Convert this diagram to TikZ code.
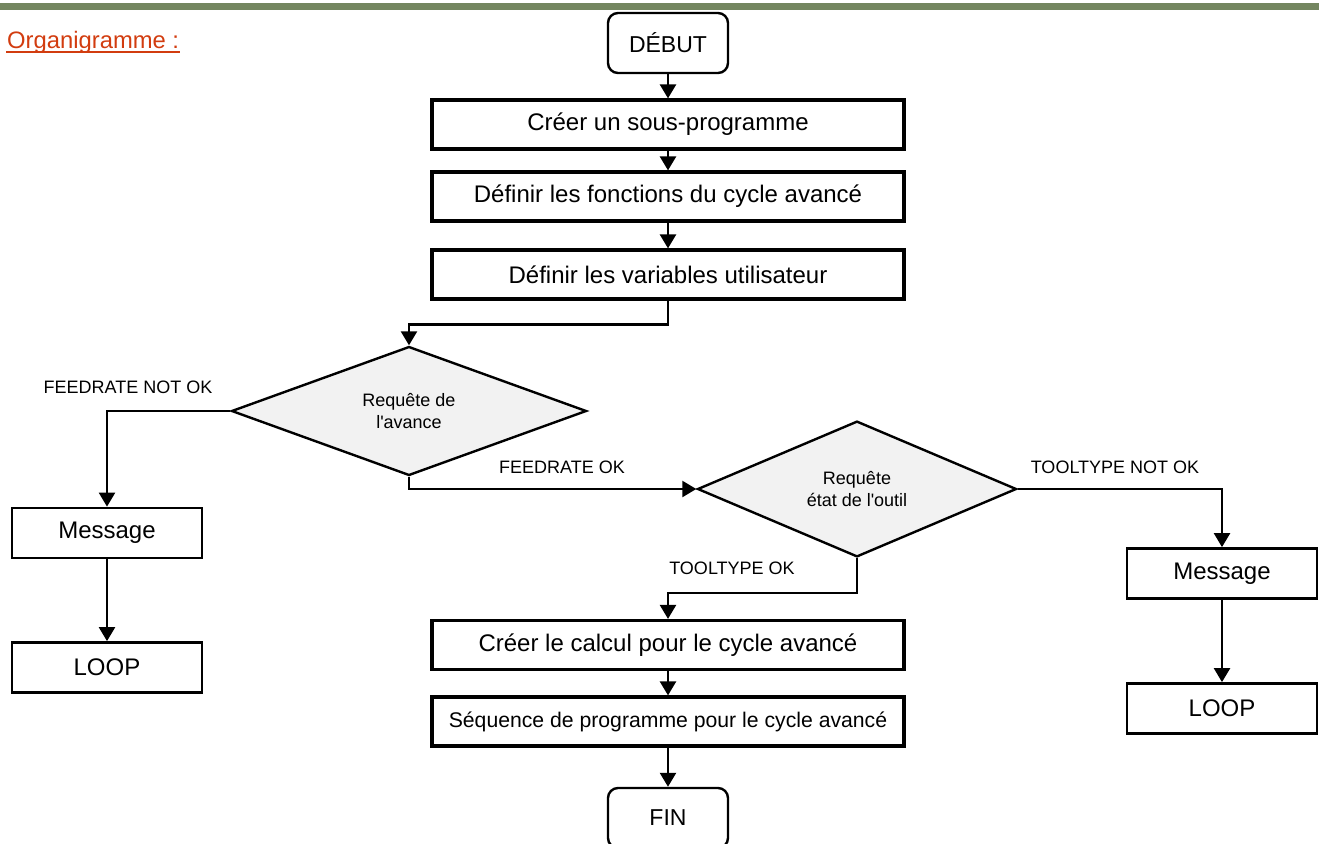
\documentclass[tikz,border=0pt]{standalone}
\usepackage{fontspec}
\setmainfont{Liberation Sans}
\usetikzlibrary{arrows.meta,shapes.geometric}
\definecolor{barcol}{RGB}{116,134,96}
\definecolor{titlecol}{RGB}{210,60,15}
\definecolor{decfill}{RGB}{242,242,242}
\begin{document}
\begin{tikzpicture}[x=0.5pt,y=-0.5pt,line width=1.2pt,
  >={Triangle[length=7pt,width=8pt]},
  action/.style={draw,line width=1.6pt,inner sep=0pt,minimum width=236pt,minimum height=24.5pt,font=\fontsize{12}{14}\selectfont},
  msgbox/.style={draw,line width=1.4pt,inner sep=0pt,minimum width=95pt,minimum height=25pt,font=\fontsize{12}{14}\selectfont},
  terminal/.style={draw,rounded corners=5pt,inner sep=0pt,minimum width=60pt,minimum height=30pt,font=\fontsize{11.5}{14}\selectfont},
  decision/.style={diamond,draw,fill=decfill,inner sep=0pt,align=center,font=\fontsize{9}{11}\selectfont},
  branch/.style={inner sep=0pt,font=\fontsize{9}{11}\selectfont}]
\clip (0,0) rectangle (1319,843);
\fill[barcol] (0,3) rectangle (1319,10);
\node[anchor=base west,inner sep=0pt,text=titlecol,font=\fontsize{11.9}{14}\selectfont] (title) at (6,48) {Organigramme :};
\draw[titlecol,line width=1.2pt] ([yshift=-1.9pt]title.base west) -- ([yshift=-1.9pt]title.base east);

\node[terminal] (debut) at (668,43) {DÉBUT};
\node[action] (b1) at (668,124.5) {Créer un sous-programme};
\node[action] (b2) at (668,196.5) {Définir les fonctions du cycle avancé};
\node[action] (b3) at (668,274.5) {Définir les variables utilisateur};
\node[decision,minimum width=177.5pt,minimum height=64.5pt] (d1) at (409,411) {Requête de\\l\textquotesingle avance};
\node[decision,minimum width=159.5pt,minimum height=66.5pt] (d2) at (857,489) {Requête\\état de l\textquotesingle outil};
\node[msgbox] (m1) at (107,533) {Message};
\node[msgbox] (l1) at (107,667.5) {LOOP};
\node[msgbox] (m2) at (1222,573.5) {Message};
\node[msgbox] (l2) at (1222,708.5) {LOOP};
\node[action] (b4) at (668,645) {Créer le calcul pour le cycle avancé};
\node[action,font=\fontsize{10.6}{13}\selectfont] (b5) at (668,721.5) {Séquence de programme pour le cycle avancé};
\node[terminal] (fin) at (668,818) {FIN};

\node[branch] (fnok) at (128,387) {FEEDRATE NOT OK};
\node[branch] (fok) at (562,467) {FEEDRATE OK};
\node[branch] (tnok) at (1115,467) {TOOLTYPE NOT OK};
\node[branch] (tok) at (732,568) {TOOLTYPE OK};

\draw[->] (debut) -- (b1);
\draw[->] (b1) -- (b2);
\draw[->] (b2) -- (b3);
\draw[->] (b3.south) -- ++(0,24) -| (d1.north);
\draw[->] (d1.west) -| (m1.north);
\draw[->] (m1) -- (l1);
\draw[->] (d1.south) |- (d2.west);
\draw[->] (d2.east) -| (m2.north);
\draw[->] (m2) -- (l2);
\draw[->] (d2.south) -- ++(0,35) -| (b4.north);
\draw[->] (b4) -- (b5);
\draw[->] (b5) -- (fin);
\end{tikzpicture}
\end{document}
